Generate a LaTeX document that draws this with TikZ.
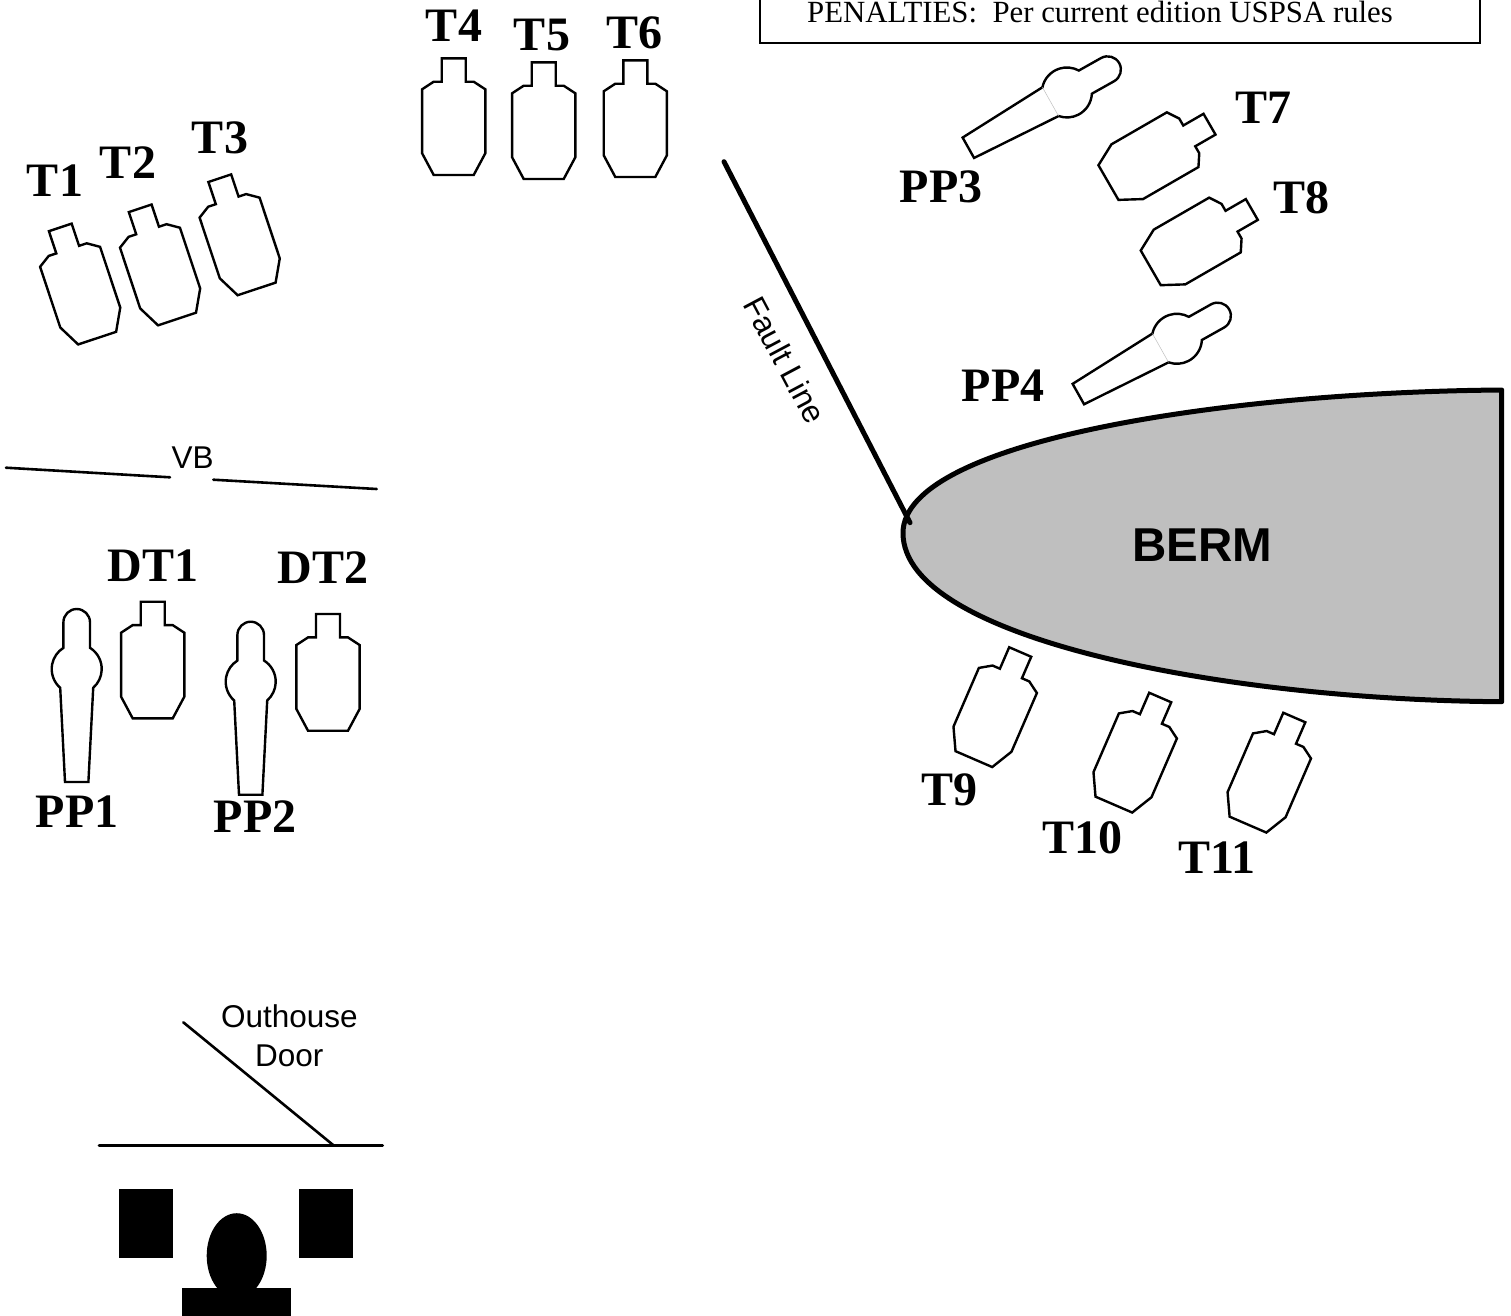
\documentclass[tikz,border=0pt]{standalone}
\usepackage{fontspec}
\setmainfont{Liberation Serif}
\setsansfont{Liberation Sans}
\definecolor{bermgrey}{gray}{0.75}
\tikzset{
  tlabel/.style={inner sep=0pt,font=\rmfamily\bfseries\fontsize{48}{48}\selectfont},
  sanslabel/.style={inner sep=0pt,font=\sffamily\fontsize{31.5}{39}\selectfont,align=center},
  outline/.style={draw=black,line width=2.4pt,line join=miter,fill=white},
  seamline/.style={draw=black!25,line width=0.5pt},
  thinline/.style={draw=black,line width=2.6pt,line cap=round},
  target/.pic={
    \path[outline] (-12,0) -- (12,0) -- (12,-23.4) -- (20,-23.4) -- (31.6,-31) -- (31.6,-95)
      -- (20,-116.7) -- (-20,-116.7) -- (-31.6,-95) -- (-31.6,-31) -- (-20,-23.4) -- (-12,-23.4) -- cycle;
  },
  popper/.pic={
    \path[outline] (-13.3,-13.3) arc[start angle=180,end angle=0,radius=13.3]
      -- (13.3,-38.8) arc[start angle=57.9,end angle=-48.7,radius=25]
      -- (11.7,-173) -- (-11.7,-173) -- (-16.5,-78.8)
      arc[start angle=228.7,end angle=122.1,radius=25] -- cycle;
    \coordinate (-l) at (-16.5,-78.8);
    \coordinate (-r) at (16.5,-78.8);
  },
}
\begin{document}
\begin{tikzpicture}[x=1pt,y=1pt]
\useasboundingbox (0,0) rectangle (1511,-1315);
\clip (0,0) rectangle (1511,-1315);

% penalties box
\node[draw=black,line width=1.5pt,minimum width=720pt,minimum height=100pt,inner sep=0pt] (box) at (1120,7) {};
\node[inner sep=0pt,font=\rmfamily\fontsize{30.8}{32}\selectfont] (pen) at (1100,-12) {PENALTIES:\ \ Per current edition USPSA rules};

% berm
\path[draw=black,fill=bermgrey,line width=5pt,line join=round]
  (1501.7,-390) .. controls (1230,-392) and (903,-440) .. (903,-533)
  .. controls (903,-640) and (1230,-700) .. (1501.7,-701.7) -- cycle;
\node[inner sep=0pt,font=\sffamily\bfseries\fontsize{47.5}{47.5}\selectfont] (berm) at (1202,-545) {BERM};

% fault line
\coordinate (f1) at (724,-161.7);
\coordinate (f2) at (910,-522.7);
\draw[black,line width=5pt,line cap=round] (f1) -- (f2);
\node[sanslabel,rotate=-62] (fl) at (785,-360) {Fault Line};

% targets
\pic[rotate=18.4] at (60.3,-227.4) {target};
\pic[rotate=18.4] at (140.2,-208.3) {target};
\pic[rotate=18.4] at (219.8,-178.2) {target};
\pic at (453.7,-58.3) {target};
\pic at (543.7,-62.3) {target};
\pic at (635.3,-60.3) {target};
\pic[rotate=-60] at (1209.5,-124.2) {target};
\pic[rotate=-60] at (1251.8,-209.5) {target};
\pic[rotate=-23.4] at (1020.2,-652) {target};
\pic[rotate=-23.4] at (1160.2,-697.5) {target};
\pic[rotate=-23.4] at (1294.3,-717.5) {target};
\pic at (152.7,-601.7) {target};
\pic at (328,-614) {target};

% poppers
\pic at (76.7,-609) {popper};
\pic at (250.7,-621.7) {popper};
\pic (pp3) [rotate=-60.7] at (1119.2,-63.1) {popper};
\pic (pp4) [rotate=-60.7] at (1229.2,-309.4) {popper};
\draw[seamline] (pp3-l) -- (pp3-r);
\draw[seamline] (pp4-l) -- (pp4-r);

% labels
\node[tlabel] (t1) at (55,-181) {T1};
\node[tlabel] (t2) at (128,-163) {T2};
\node[tlabel] (t3) at (220,-138) {T3};
\node[tlabel] (t4) at (454,-26) {T4};
\node[tlabel] (t5) at (542,-35) {T5};
\node[tlabel] (t6) at (634,-33) {T6};
\node[tlabel] (t7) at (1263,-108) {T7};
\node[tlabel] (t8) at (1301,-198) {T8};
\node[tlabel] (t9) at (949,-790) {T9};
\node[tlabel] (t10) at (1082,-838) {T10};
\node[tlabel] (t11) at (1217,-858) {T11};
\node[tlabel] (pp3l) at (941,-187) {PP3};
\node[tlabel] (pp4l) at (1003,-386) {PP4};
\node[tlabel] (dt1) at (153,-566) {DT1};
\node[tlabel] (dt2) at (323,-568) {DT2};
\node[tlabel] (pp1l) at (77,-812) {PP1};
\node[tlabel] (pp2l) at (255,-817) {PP2};

% vision barrier
\node[sanslabel] (vb) at (192.7,-458) {VB};
\coordinate (v1) at (6,-467.7);
\coordinate (v2) at (170,-477.3);
\coordinate (v3) at (213.3,-479.7);
\coordinate (v4) at (376.7,-489);
\draw[thinline] (v1) -- (v2);
\draw[thinline] (v3) -- (v4);

% outhouse
\node[sanslabel] (door) at (289.3,-1036) {Outhouse\\Door};
\coordinate (d1) at (183.3,-1022.3);
\coordinate (d2) at (334,-1145.7);
\coordinate (w1) at (99,-1145.7);
\coordinate (w2) at (382.7,-1145.7);
\draw[thinline] (d1) -- (d2);
\draw[thinline] (w1) -- (w2);
\fill[black] (119.3,-1189.3) rectangle (173.3,-1258.3);
\fill[black] (299.3,-1189.3) rectangle (353.3,-1258.3);
\fill[black] (236.7,-1255.7) ellipse[x radius=30,y radius=42.5];
\fill[black] (182.3,-1288.3) rectangle (290.7,-1320);
\end{tikzpicture}
\end{document}
